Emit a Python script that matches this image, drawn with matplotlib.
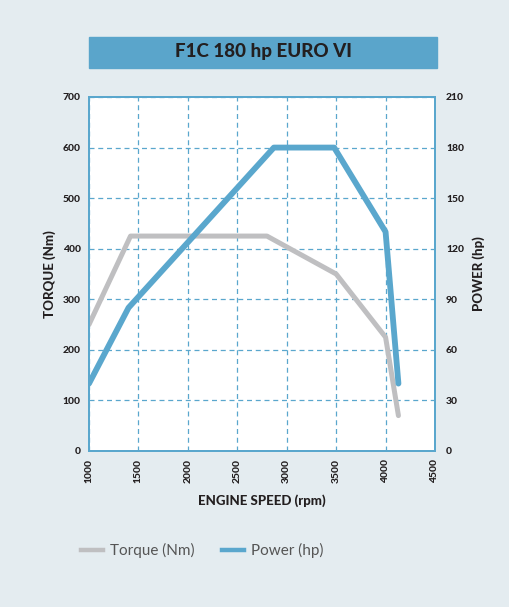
import matplotlib.pyplot as plt
from matplotlib.lines import Line2D
from matplotlib.patches import Rectangle

BG, BLUE, GREY, INK = "#e4ecf0", "#5aa7cd", "#bfbfc1", "#231f20"
plt.rcParams.update({"font.family": ["Lato", "DejaVu Sans"]})

# engine curves
rpm_torque = [1000, 1420, 2800, 3500, 4000, 4130]
torque_nm = [250, 425, 425, 350, 225, 70]
rpm_power = [1000, 1400, 2870, 3480, 4000, 4130]
power_hp = [40, 85, 180, 180, 130, 40]
x_ticks = [1000, 1500, 2000, 2500, 3000, 3500, 4000, 4500]
torque_ticks = list(range(0, 701, 100))
power_ticks = list(range(0, 211, 30))

W, H = 510, 607
fig = plt.figure(figsize=(W / 100, H / 100), dpi=100, facecolor=BG)

def fx(px): return px / W
def fy(py): return 1 - py / H

# title bar
fig.patches.append(Rectangle((fx(89), fy(68)), fx(437) - fx(89), fy(37) - fy(68),
                             transform=fig.transFigure, color="#5aa5cb", zorder=0))
fig.text(fx(263), fy(52), "F1C 180 hp EURO VI", ha="center", va="center",
         fontsize=13.5, weight="black", color=INK)

ax = fig.add_axes([fx(89), fy(451), fx(435) - fx(89), fy(97) - fy(451)])
ax.set_facecolor("white")
ax.plot(rpm_torque, torque_nm, color=GREY, lw=3.6, solid_joinstyle="round",
        solid_capstyle="round", zorder=3)
ax.set_xlim(1000, 4500); ax.set_ylim(0, 700)
ax.set_xticks(x_ticks); ax.set_yticks(torque_ticks)
ax.set_xticklabels([str(v) for v in x_ticks], rotation=90)
ax.grid(True, color=BLUE, ls=(0, (4, 3)), lw=0.9)
ax.set_axisbelow(True)
for s in ax.spines.values():
    s.set_color(BLUE); s.set_linewidth(1.4)
ax.tick_params(length=0, labelsize=7.5, labelcolor=INK, pad=6)
for t in ax.get_xticklabels() + ax.get_yticklabels():
    t.set_fontweight("black")
ax.set_ylabel("TORQUE (Nm)", fontsize=9.5, weight="black", color=INK, labelpad=5)
ax.set_xlabel("ENGINE SPEED (rpm)", fontsize=9.5, weight="black", color=INK, labelpad=8)

ax2 = ax.twinx()
ax2.patch.set_visible(False)
ax2.plot(rpm_power, power_hp, color=BLUE, lw=4.2, solid_joinstyle="round",
         solid_capstyle="round", zorder=4)
ax2.set_ylim(0, 210); ax2.set_yticks(power_ticks)
for s in ax2.spines.values():
    s.set_color(BLUE); s.set_linewidth(1.4)
ax2.tick_params(length=0, labelsize=7.5, labelcolor=INK, pad=8)
for t in ax2.get_yticklabels():
    t.set_fontweight("black")
ax2.set_ylabel("POWER (hp)", fontsize=9.5, weight="black", color=INK, labelpad=6)

# legend
for x0, c, label in [(81, GREY, "Torque (Nm)"), (222, BLUE, "Power (hp)")]:
    fig.add_artist(Line2D([fx(x0), fx(x0 + 22)], [fy(550), fy(550)], color=c, lw=3.2,
                          transform=fig.transFigure))
    fig.text(fx(x0 + 29), fy(550), label, ha="left", va="center", fontsize=11,
             color="#555555")

fig.savefig("out.png", dpi=100, facecolor=BG)
